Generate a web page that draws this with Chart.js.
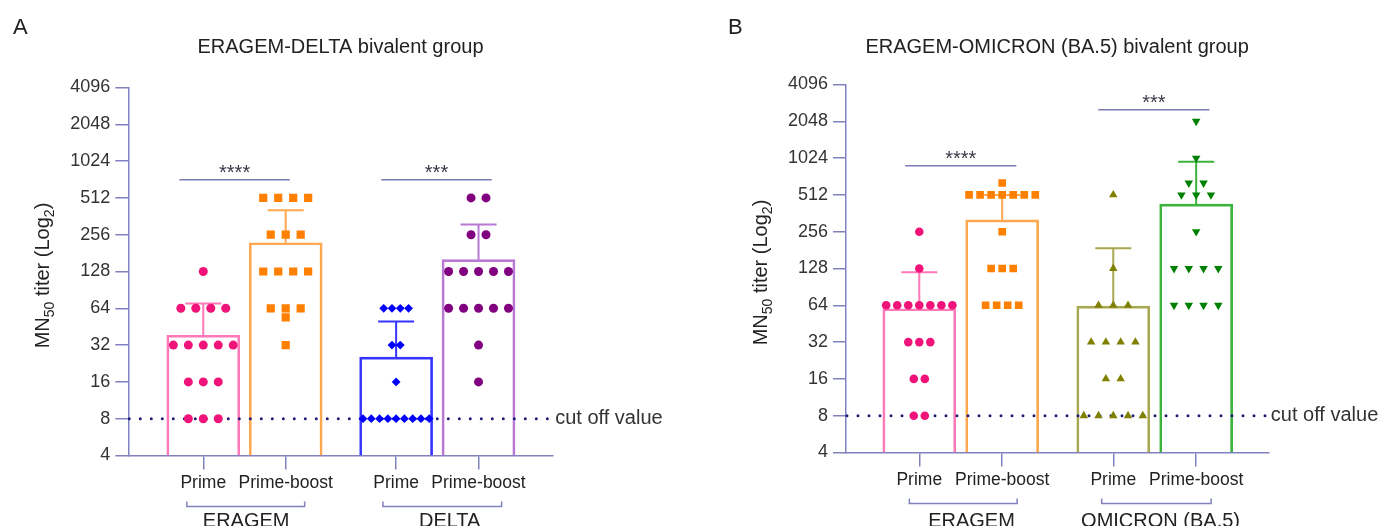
<!DOCTYPE html>
<html>
<head>
<meta charset="utf-8">
<script src="https://cdn.jsdelivr.net/npm/chart.js@4.4.0/dist/chart.umd.min.js"></script>
<style>
  html, body { margin: 0; padding: 0; background: #fff; }
  #wrap { position: relative; width: 1381px; height: 526px; overflow: hidden; }
  #chartA { position: absolute; left: 0; top: 0; }
  #chartB { position: absolute; left: 690px; top: 0; }
</style>
</head>
<body>
<div id="wrap">
  <canvas id="chartA" width="690" height="526"></canvas>
  <canvas id="chartB" width="691" height="526"></canvas>
</div>
<script>
// shared
const yTicks = [4, 8, 16, 32, 64, 128, 256, 512, 1024, 2048, 4096];
const doseLabels = ['Prime', 'Prime-boost', 'Prime', 'Prime-boost'];
const cutOff = 8;

// A: ERAGEM-DELTA bivalent group
const aTitle = 'ERAGEM-DELTA bivalent group';
const aGroups = ['ERAGEM', 'DELTA'];
const aMeans = [38.5, 220, 25.5, 160];
const aSdTop = [70, 405, 50, 310];
const aEragemPrime = [128, 64, 64, 64, 64, 32, 32, 32, 32, 32, 16, 16, 16, 8, 8, 8];
const aEragemBoost = [512, 512, 512, 512, 256, 256, 256, 128, 128, 128, 128, 64, 64, 64, 54, 32];
const aDeltaPrime = [64, 64, 64, 64, 32, 32, 16, 8, 8, 8, 8, 8, 8, 8, 8, 8];
const aDeltaBoost = [512, 512, 256, 256, 128, 128, 128, 128, 128, 64, 64, 64, 64, 64, 32, 16];
const aStars = ['****', '***'];
const aStarLevel = [720, 720];

// B: ERAGEM-OMICRON (BA.5) bivalent group
const bTitle = 'ERAGEM-OMICRON (BA.5) bivalent group';
const bGroups = ['ERAGEM', 'OMICRON (BA.5)'];
const bMeans = [60, 320, 63, 430];
const bSdTop = [119, 512, 187, 955];
const bEragemPrime = [256, 128, 64, 64, 64, 64, 64, 64, 64, 32, 32, 32, 16, 16, 8, 8];
const bEragemBoost = [640, 512, 512, 512, 512, 512, 512, 512, 256, 128, 128, 128, 64, 64, 64, 64];
const bOmicronPrime = [512, 128, 64, 64, 64, 32, 32, 32, 32, 16, 16, 8, 8, 8, 8, 8];
const bOmicronBoost = [2048, 1024, 640, 640, 512, 512, 512, 256, 128, 128, 128, 128, 64, 64, 64, 64];
const bStars = ['****', '***'];
const bStarLevel = [885, 2550];

// layout
const xPos = [0, 1, 2.34, 3.34];
const unitPx = 82.6;
const axisColor = '#8181c0';
const fontFamily = "'Liberation Sans', Arial, sans-serif";
Chart.defaults.font.family = fontFamily;

const panelA = {
  title: aTitle, letter: 'A', groups: aGroups, means: aMeans, sdTop: aSdTop,
  series: [aEragemPrime, aEragemBoost, aDeltaPrime, aDeltaBoost],
  stars: aStars, starLevel: aStarLevel,
  look: [
    { bar: '#ff78b8', dot: '#f0147a', shape: 'circle', r: 4.5, gap: 15 },
    { bar: '#ffa84f', dot: '#ff7f00', shape: 'rect', r: 5.8, gap: 15 },
    { bar: '#3535ff', dot: '#0000ff', shape: 'rectRot', r: 4.4, gap: 8.3 },
    { bar: '#b878d4', dot: '#800080', shape: 'circle', r: 4.5, gap: 15 }
  ],
  pad: { left: 68.3, right: 137.3, top: 87.5, bottom: 20.5 },
  xMin: -0.91, xMax: 4.24,
  starX: [0.38, 2.83],
  bracket: [[-0.2, 1.23], [2.18, 3.62]],
  groupX: [0.52, 2.99]
};

const panelB = {
  title: bTitle, letter: 'B', groups: bGroups, means: bMeans, sdTop: bSdTop,
  series: [bEragemPrime, bEragemBoost, bOmicronPrime, bOmicronBoost],
  stars: bStars, starLevel: bStarLevel,
  look: [
    { bar: '#ff78b8', dot: '#f0147a', shape: 'circle', r: 4.3, gap: 11 },
    { bar: '#ffa84f', dot: '#ff7f00', shape: 'rect', r: 5.4, gap: 11 },
    { bar: '#a8a850', dot: '#808000', shape: 'triangle', r: 4.9, gap: 14.7 },
    { bar: '#3cb33c', dot: '#008000', shape: 'triangle', r: 4.9, gap: 14.7, rot: 180 }
  ],
  pad: { left: 96, right: 112.7, top: 84.5, bottom: 23.5 },
  xMin: -0.884, xMax: 4.21,
  starX: [0.5, 2.83],
  bracket: [[-0.12, 1.18], [2.2, 3.52]],
  groupX: [0.63, 2.91]
};

// equal values sit in one centred row
function swarm(values, center, gapPx) {
  const counts = new Map();
  values.forEach(v => counts.set(v, (counts.get(v) || 0) + 1));
  const pts = [];
  counts.forEach((n, v) => {
    for (let i = 0; i < n; i++) {
      pts.push({ x: center + (i - (n - 1) / 2) * gapPx / unitPx, y: v });
    }
  });
  return pts;
}

function build(id, p) {
  const datasets = p.series.map((vals, i) => ({
    type: 'scatter',
    data: swarm(vals, xPos[i], p.look[i].gap),
    pointStyle: p.look[i].shape,
    pointRadius: p.look[i].r,
    pointRotation: p.look[i].rot || 0,
    backgroundColor: p.look[i].dot,
    borderColor: p.look[i].dot,
    borderWidth: 0,
    order: 0
  }));
  datasets.push({
    type: 'bar',
    data: p.means.map((m, i) => ({ x: xPos[i], y: m })),
    backgroundColor: 'rgba(255,255,255,0)',
    borderColor: p.look.map(l => l.bar),
    borderWidth: 2,
    borderSkipped: 'start',
    barThickness: 73,
    order: 1
  });
  const barIndex = datasets.length - 1;

  const marks = {
    id: 'marks',
    afterDatasetDraw(chart, args) {
      if (args.index !== barIndex) return;
      const { ctx, chartArea: a, scales: { x, y } } = chart;
      ctx.save();
      // cut off dotted line
      const yc = y.getPixelForValue(cutOff);
      ctx.strokeStyle = '#1d1d78';
      ctx.lineWidth = 3;
      ctx.lineCap = 'round';
      ctx.setLineDash([0, 11]);
      ctx.beginPath();
      ctx.moveTo(a.left + 1, yc);
      ctx.lineTo(a.right, yc);
      ctx.stroke();
      ctx.setLineDash([]);
      // SD error bars
      ctx.lineWidth = 2;
      ctx.lineCap = 'butt';
      p.means.forEach((m, i) => {
        const cx = x.getPixelForValue(xPos[i]);
        const y0 = y.getPixelForValue(m);
        const y1 = y.getPixelForValue(p.sdTop[i]);
        ctx.strokeStyle = p.look[i].bar;
        ctx.beginPath();
        ctx.moveTo(cx, y0);
        ctx.lineTo(cx, y1);
        ctx.moveTo(cx - 18, y1);
        ctx.lineTo(cx + 18, y1);
        ctx.stroke();
      });
      ctx.restore();
    },
    afterDraw(chart) {
      const { ctx, chartArea: a, scales: { x, y } } = chart;
      ctx.save();
      ctx.fillStyle = '#222';
      // panel letter + title
      ctx.textAlign = 'left';
      ctx.textBaseline = 'alphabetic';
      ctx.font = '22px ' + fontFamily;
      ctx.fillText(p.letter, p.letter === 'A' ? 13 : 38, 34);
      ctx.textAlign = 'center';
      ctx.font = '20px ' + fontFamily;
      ctx.fillText(p.title, (a.left + a.right) / 2, 53);

      // y axis title with subscripts
      const parts = [['MN', 0], ['50', 1], [' titer (Log', 0], ['2', 1], [')', 0]];
      const big = '20px ' + fontFamily, small = '14px ' + fontFamily;
      let total = 0;
      parts.forEach(([t, s]) => { ctx.font = s ? small : big; total += ctx.measureText(t).width; });
      ctx.translate(a.left - 86, (a.top + a.bottom) / 2 + 4);
      ctx.rotate(-Math.PI / 2);
      ctx.textAlign = 'left';
      let tx = -total / 2;
      parts.forEach(([t, s]) => {
        ctx.font = s ? small : big;
        ctx.fillText(t, tx, s ? 12 : 7);
        tx += ctx.measureText(t).width;
      });
      ctx.setTransform(1, 0, 0, 1, 0, 0);

      // cut off label
      ctx.fillStyle = '#333';
      ctx.textAlign = 'left';
      ctx.textBaseline = 'middle';
      ctx.font = '20px ' + fontFamily;
      ctx.fillText('cut off value', a.right + 2.5, y.getPixelForValue(cutOff));

      // significance lines
      ctx.strokeStyle = '#7b7bb5';
      ctx.lineWidth = 1.5;
      ctx.textAlign = 'center';
      ctx.textBaseline = 'alphabetic';
      p.stars.forEach((s, i) => {
        const cx = x.getPixelForValue(p.starX[i]);
        const half = 0.67 * (x.getPixelForValue(1) - x.getPixelForValue(0));
        const ly = y.getPixelForValue(p.starLevel[i]);
        ctx.beginPath();
        ctx.moveTo(cx - half, ly);
        ctx.lineTo(cx + half, ly);
        ctx.stroke();
        ctx.fillStyle = '#3a3a4a';
        ctx.font = '20px ' + fontFamily;
        ctx.fillText(s, cx, ly - 1);
      });

      // group brackets
      ctx.strokeStyle = axisColor;
      ctx.lineWidth = 1.5;
      p.bracket.forEach(([u0, u1], i) => {
        const x0 = x.getPixelForValue(u0), x1 = x.getPixelForValue(u1);
        const by = a.bottom + 51;
        ctx.beginPath();
        ctx.moveTo(x0, by - 5);
        ctx.lineTo(x0, by);
        ctx.lineTo(x1, by);
        ctx.lineTo(x1, by - 5);
        ctx.stroke();
        ctx.fillStyle = '#222';
        ctx.font = '20px ' + fontFamily;
        ctx.fillText(p.groups[i], x.getPixelForValue(p.groupX[i]), 527);
      });
      ctx.restore();
    }
  };

  return new Chart(document.getElementById(id), {
    type: 'scatter',
    data: { datasets },
    options: {
      responsive: false,
      animation: false,
      layout: { padding: p.pad },
      plugins: { legend: { display: false }, tooltip: { enabled: false } },
      scales: {
        x: {
          type: 'linear',
          min: p.xMin,
          max: p.xMax,
          offset: false,
          afterBuildTicks: s => { s.ticks = xPos.map(v => ({ value: v })); },
          afterFit: s => { s.height = 50; },
          ticks: {
            callback: (v, i) => doseLabels[i],
            autoSkip: false, maxRotation: 0, minRotation: 0,
            padding: 3, color: '#222', font: { size: 17.5 }
          },
          grid: { offset: false, drawOnChartArea: false, tickLength: 14, color: axisColor, lineWidth: 1.5 },
          border: { color: axisColor, width: 1.5 }
        },
        y: {
          type: 'logarithmic',
          min: 4,
          max: 4096,
          afterBuildTicks: s => { s.ticks = yTicks.map(v => ({ value: v })); },
          afterFit: s => { s.width = 60; },
          ticks: { callback: v => String(v), padding: 5, color: '#333', font: { size: 18 } },
          grid: { drawOnChartArea: false, tickLength: 13, color: axisColor, lineWidth: 1.5 },
          border: { color: axisColor, width: 1.5 }
        }
      }
    },
    plugins: [marks]
  });
}

build('chartA', panelA);
build('chartB', panelB);
</script>
</body>
</html>
